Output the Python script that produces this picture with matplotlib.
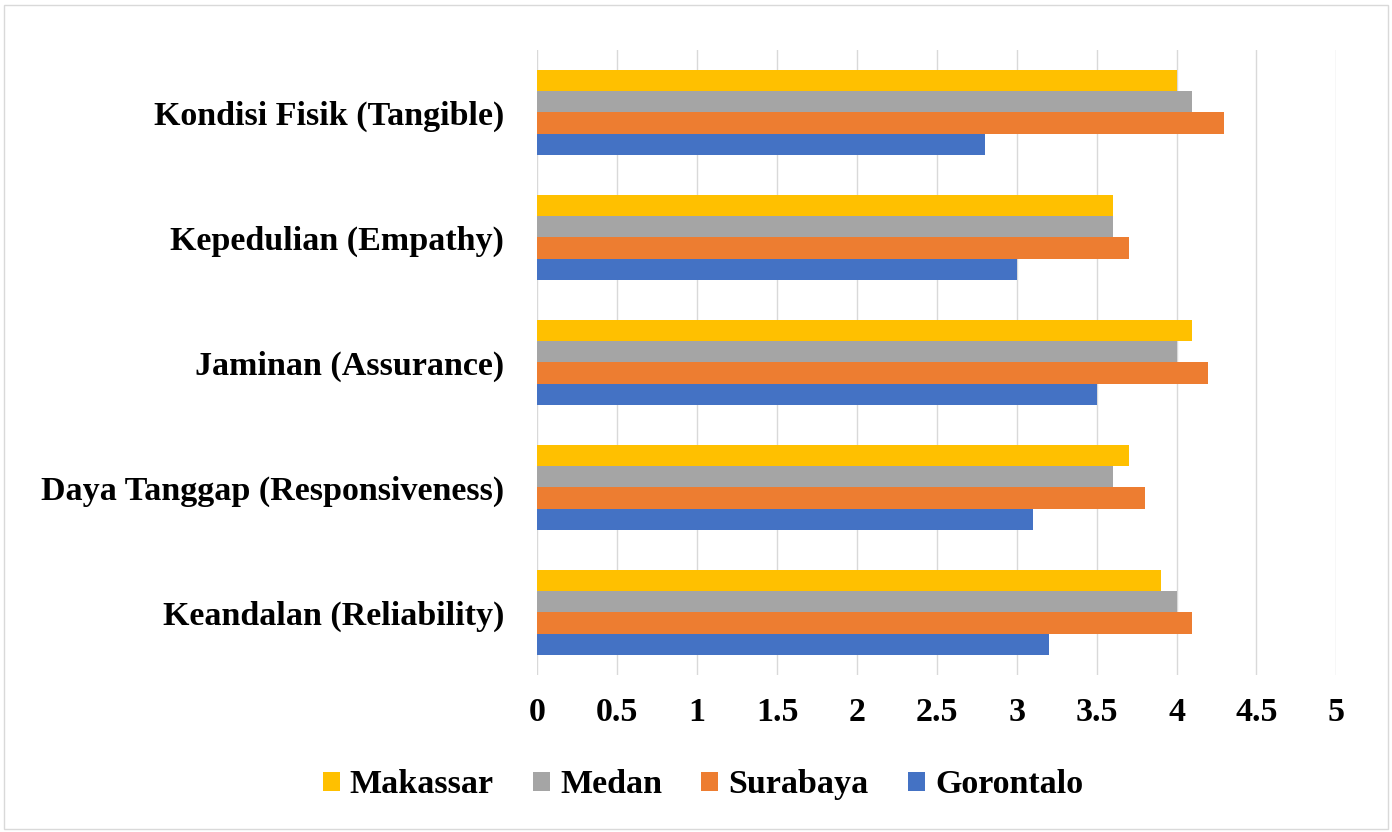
import numpy as np
import matplotlib.pyplot as plt
from matplotlib.patches import Rectangle

# Service-quality scores per dimension and city
categories = ['Keandalan (Reliability)', 'Daya Tanggap (Responsiveness)',
              'Jaminan (Assurance)', 'Kepedulian (Empathy)',
              'Kondisi Fisik (Tangible)']
gorontalo = [3.2, 3.1, 3.5, 3.0, 2.8]
surabaya = [4.1, 3.8, 4.2, 3.7, 4.3]
medan = [4.0, 3.6, 4.0, 3.6, 4.1]
makassar = [3.9, 3.7, 4.1, 3.6, 4.0]
xticks = [0, 0.5, 1, 1.5, 2, 2.5, 3, 3.5, 4, 4.5, 5]
xtick_labels = ['0', '0.5', '1', '1.5', '2', '2.5', '3', '3.5', '4', '4.5', '5']

series = [('Gorontalo', gorontalo, '#4472C4'),
          ('Surabaya', surabaya, '#ED7D31'),
          ('Medan', medan, '#A5A5A5'),
          ('Makassar', makassar, '#FFC000')]

plt.rcParams['font.family'] = ['Liberation Serif', 'DejaVu Serif']
plt.rcParams['font.weight'] = 'bold'
FS = 24.5

fig = plt.figure(figsize=(13.92, 8.32), dpi=100)
ax = fig.add_axes([0.386, 0.189, 0.574, 0.751])

y = np.arange(len(categories))
h = 0.17
handles = {}
for i, (name, vals, col) in enumerate(series):
    offs = (i - 1.5) * h
    b = ax.barh(y + offs, vals, height=h, color=col, zorder=3)
    handles[name] = b

ax.set_xlim(0, 5)
ax.set_ylim(-0.5, len(categories) - 0.5)
ax.set_xticks(xticks)
ax.set_xticklabels(xtick_labels, fontsize=FS, fontweight='bold')
ax.set_yticks(y)
ax.set_yticklabels(categories, fontsize=FS, fontweight='bold')
ax.tick_params(axis='y', length=0, pad=24)
ax.tick_params(axis='x', length=0, pad=16)
ax.grid(axis='x', color='#D9D9D9', linewidth=1, zorder=0)
for s in ax.spines.values():
    s.set_visible(False)

order = ['Makassar', 'Medan', 'Surabaya', 'Gorontalo']
fig.legend([handles[n] for n in order], order, loc='center',
           bbox_to_anchor=(0.505, 0.0565), ncol=4, frameon=False,
           prop={'size': FS, 'weight': 'bold'},
           handlelength=0.5, handleheight=0.5, handletextpad=0.3,
           columnspacing=1.15)

fig.add_artist(Rectangle((0.003, 0.004), 0.994, 0.99, transform=fig.transFigure,
                         fill=False, edgecolor='#D9D9D9', linewidth=1))

fig.savefig('out.png', dpi=100)
